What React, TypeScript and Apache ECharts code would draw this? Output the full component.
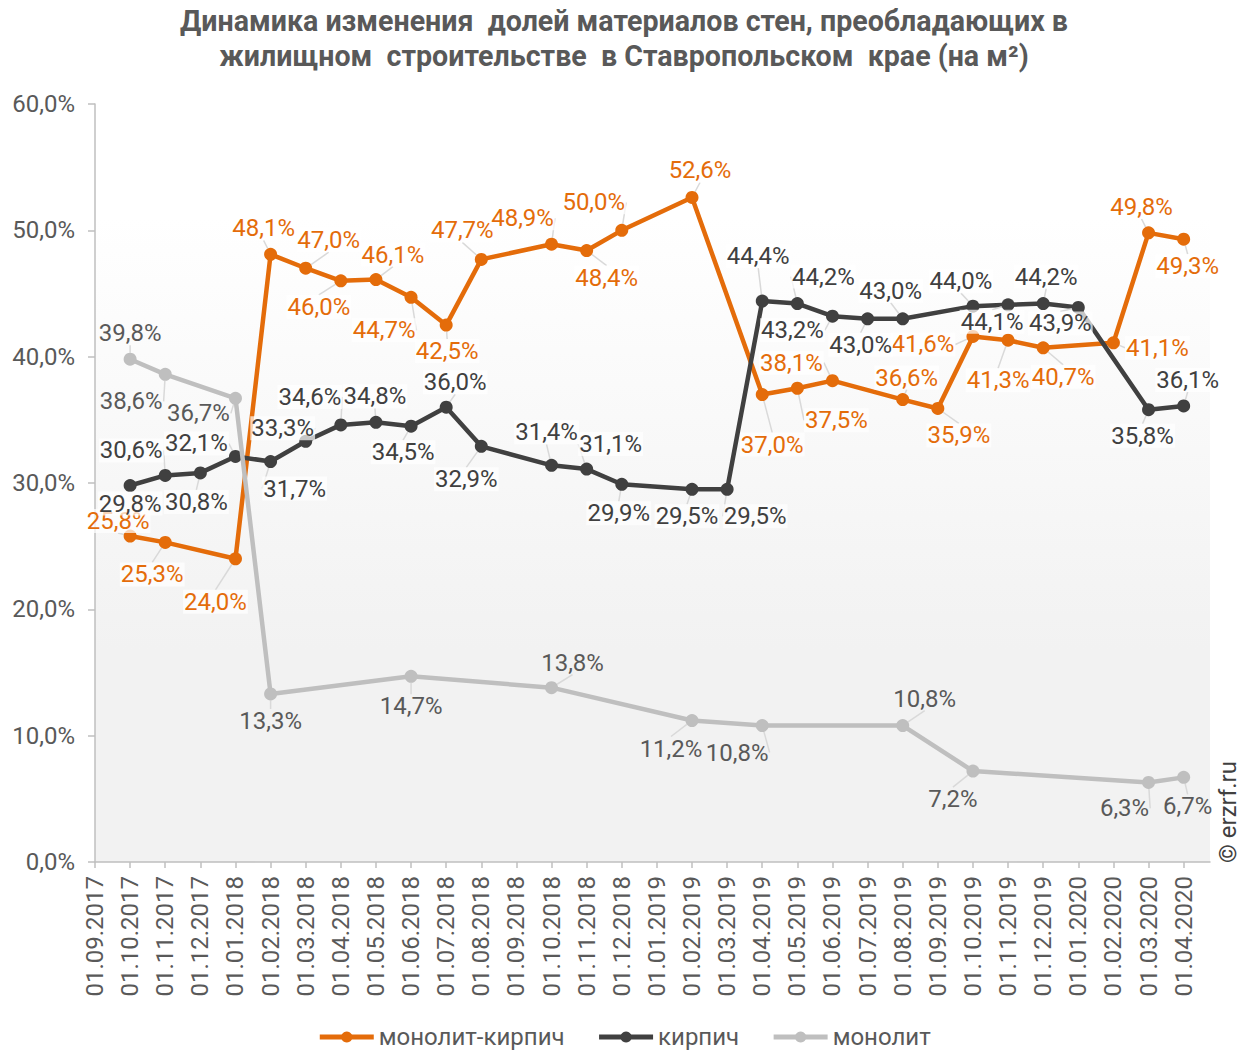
import React, { useEffect, useRef } from "react";
import * as echarts from "echarts";

const categories = [
  "01.09.2017", "01.10.2017", "01.11.2017", "01.12.2017", "01.01.2018", "01.02.2018",
  "01.03.2018", "01.04.2018", "01.05.2018", "01.06.2018", "01.07.2018", "01.08.2018",
  "01.09.2018", "01.10.2018", "01.11.2018", "01.12.2018", "01.01.2019", "01.02.2019",
  "01.03.2019", "01.04.2019", "01.05.2019", "01.06.2019", "01.07.2019", "01.08.2019",
  "01.09.2019", "01.10.2019", "01.11.2019", "01.12.2019", "01.01.2020", "01.02.2020",
  "01.03.2020", "01.04.2020",
];

const seriesNames = ["монолит-кирпич", "кирпич", "монолит"];

// [category index, value %]
const monolitKirpich: [number, number][] = [
  [1, 25.8], [2, 25.3], [4, 24.0], [5, 48.1], [6, 47.0], [7, 46.0], [8, 46.1], [9, 44.7],
  [10, 42.5], [11, 47.7], [13, 48.9], [14, 48.4], [15, 50.0], [17, 52.6], [19, 37.0],
  [20, 37.5], [21, 38.1], [23, 36.6], [24, 35.9], [25, 41.6], [26, 41.3], [27, 40.7],
  [29, 41.1], [30, 49.8], [31, 49.3],
];
const kirpich: [number, number][] = [
  [1, 29.8], [2, 30.6], [3, 30.8], [4, 32.1], [5, 31.7], [6, 33.3], [7, 34.6], [8, 34.8],
  [9, 34.5], [10, 36.0], [11, 32.9], [13, 31.4], [14, 31.1], [15, 29.9], [17, 29.5],
  [18, 29.5], [19, 44.4], [20, 44.2], [21, 43.2], [22, 43.0], [23, 43.0], [25, 44.0],
  [26, 44.1], [27, 44.2], [28, 43.9], [30, 35.8], [31, 36.1],
];
const monolit: [number, number][] = [
  [1, 39.8], [2, 38.6], [4, 36.7], [5, 13.3], [9, 14.7], [13, 13.8], [17, 11.2],
  [19, 10.8], [23, 10.8], [25, 7.2], [30, 6.3], [31, 6.7],
];

// label offsets (layout only), in px relative to the point
const offMK = [
  [-12, -15], [-13, 32], [-20, 43], [-7, -26], [23, -28], [-22, 26], [17, -25], [-27, 33],
  [1, 26], [-19, -29], [-29, -26], [20, 27], [-28, -28], [8, -27], [10, 50],
  [39, 32], [-41, -18], [4, -22], [21, 27], [-50, 8], [-10, 40], [20, 29],
  [44, 5], [-7, -26], [4, 27],
];
const offK = [
  [0, 18], [-34, -25], [-4, 29], [-39, -13], [24, 27], [-23, -13], [-31, -28], [-1, -26],
  [-8, 26], [9, -25], [-15, 33], [-5, -33], [24, -25], [-3, 29], [-5, 27],
  [28, 27], [-4, -45], [26, -27], [-40, 14], [-7, 26], [-12, -28], [-12, -25],
  [-16, 17], [3, -27], [-18, 16], [-6, 26], [4, -26],
];
const offM = [
  [0, -26], [-34, 27], [-37, 15], [0, 27], [0, 30], [21, -25], [-21, 28],
  [-25, 27], [22, -27], [-20, 28], [-24, 26], [4, 29],
];

const colors = ["#E46C0A", "#404040", "#BFBFBF"];
const labelColors = ["#E46C0A", "#404040", "#595959"];
const FONT = "Roboto, 'Noto Sans', sans-serif";

const fmt = (v: number) => v.toFixed(1).replace(".", ",") + "%";

export default function App() {
  const ref = useRef<HTMLDivElement>(null);
  useEffect(() => {
    if (!ref.current) return;
    const chart = echarts.init(ref.current, undefined, { renderer: "svg" });
    const datasets = [monolitKirpich, kirpich, monolit];
    const offsets = [offMK, offK, offM];

    const series = datasets.map((d, si) => ({
      name: seriesNames[si],
      type: "line",
      data: d.map((p) => ({ value: p })),
      connectNulls: true,
      symbol: "circle",
      symbolSize: 13,
      showSymbol: true,
      lineStyle: { color: colors[si], width: 4.5 },
      itemStyle: { color: colors[si] },
      z: 2 + si,
      label: {
        show: true,
        position: "inside",
        formatter: (p: any) => fmt(p.value[1]),
        fontFamily: FONT,
        fontSize: 24,
        color: labelColors[si],
        backgroundColor: si < 2 ? "rgba(255,255,255,0.7)" : "transparent",
        padding: [0, 1],
      },
      labelLine: {
        show: true,
        lineStyle: { color: "#D9D9D9", width: 1.5 },
      },
      labelLayout: (params: any) => {
        const o = offsets[si][params.dataIndex] || [0, -25];
        return { dx: o[0], dy: o[1] };
      },
      emphasis: { disabled: true },
    }));

    const option: any = {
      animation: false,
      backgroundColor: "#ffffff",
      textStyle: { fontFamily: FONT },
      title: {
        text: "Динамика изменения  долей материалов стен, преобладающих в\nжилищном  строительстве  в Ставропольском  крае (на м²)",
        left: "center",
        top: -2,
        textStyle: {
          fontFamily: FONT,
          fontWeight: "bold",
          fontSize: 28.6,
          color: "#595959",
          lineHeight: 35,
        },
      },
      legend: {
        top: 1020,
        left: "center",
        itemWidth: 54,
        itemHeight: 14,
        itemGap: 32,
        data: seriesNames,
        lineStyle: { width: 5 },
        textStyle: { fontFamily: FONT, fontSize: 24, color: "#595959" },
      },
      grid: {
        left: 95,
        right: 38,
        top: 104,
        bottom: 189,
        show: true,
        borderWidth: 0,
        backgroundColor: new echarts.graphic.LinearGradient(0, 0, 0, 1, [
          { offset: 0, color: "#ffffff" },
          { offset: 0.15, color: "#ffffff" },
          { offset: 0.72, color: "#f2f2f2" },
          { offset: 1, color: "#f2f2f2" },
        ]),
      },
      xAxis: {
        type: "value",
        min: 0,
        max: 31.75,
        interval: 1,
        axisLine: { show: true, lineStyle: { color: "#BFBFBF", width: 1.5 } },
        axisTick: {
          show: true,
          length: 6,
          customValues: categories.map((_, i) => i),
          lineStyle: { color: "#BFBFBF", width: 1.5 },
        },
        splitLine: { show: false },
        axisLabel: {
          customValues: categories.map((_, i) => i),
          rotate: 90,
          margin: 14,
          fontFamily: FONT,
          fontSize: 24,
          color: "#595959",
          formatter: (v: number) => categories[Math.round(v)] ?? "",
        },
      },
      yAxis: {
        type: "value",
        min: 0,
        max: 60,
        interval: 10,
        axisLine: { show: true, lineStyle: { color: "#BFBFBF", width: 1.5 } },
        axisTick: { show: true, length: 7, lineStyle: { color: "#BFBFBF", width: 1.5 } },
        splitLine: { show: false },
        axisLabel: {
          margin: 20,
          fontFamily: FONT,
          fontSize: 24,
          color: "#595959",
          formatter: (v: number) => fmt(v),
        },
      },
      graphic: [
        {
          type: "text",
          x: 1228,
          y: 812,
          rotation: Math.PI / 2,
          style: {
            text: "© erzrf.ru",
            fontFamily: FONT,
            fontSize: 24,
            fill: "#404040",
            align: "center",
            verticalAlign: "middle",
          },
        },
      ],
      series,
    };
    chart.setOption(option);
    return () => chart.dispose();
  }, []);
  return (
    <div
      ref={ref}
      style={{ position: "absolute", left: 0, top: 0, width: 1248, height: 1051 }}
    />
  );
}
